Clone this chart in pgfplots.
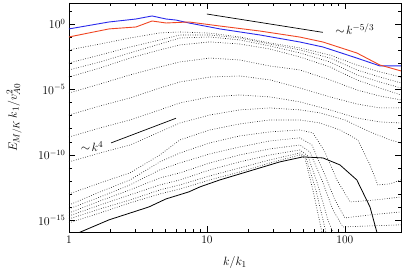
\documentclass[border=0pt]{standalone}
\usepackage{pgfplots}
\pgfplotsset{compat=1.18}
\definecolor{myblue}{RGB}{40,40,235}
\definecolor{myred}{RGB}{240,70,35}
\begin{document}
\begin{tikzpicture}
\begin{axis}[
  scale only axis, width=332pt, height=229pt,
  xmode=log, ymode=log,
  xmin=1, xmax=255, ymin=1.3e-16, ymax=40,
  xtick={1,10,100}, xticklabels={1,10,100},
  ytick={1e-15,1e-10,1e-5,1},
  yticklabels={$10^{-15}$,$10^{-10}$,$10^{-5}$,$10^{0}$},
  minor ytick={1e-16,1e-14,1e-13,1e-12,1e-11,1e-9,1e-8,1e-7,1e-6,1e-4,1e-3,1e-2,1e-1,10},
  tick align=inside,
  major tick length=6pt, minor tick length=3.5pt,
  every tick/.style={black, line width=0.5pt},
  tick label style={font=\fontsize{11.5}{13}\selectfont},
  xlabel={$k/k_1$}, ylabel={$E_{M/K}\,k_1/v_{A0}^2$},
  label style={font=\fontsize{12.5}{14}\selectfont},
  xlabel style={at={(axis description cs:0.5,-0.135)}, anchor=center},
  ylabel style={at={(axis description cs:-0.165,0.5)}, anchor=center},
  axis line style={line width=0.6pt},
  dotst/.style={black!90, line width=0.6pt, dash pattern=on 0.7pt off 1.7pt},
]
% dotted spectra
\addplot[dotst] coordinates {(1,6.46e-16)(1.68,3.72e-15)(2.77,2.19e-14)(4.56,1.05e-13)(6.37,2.51e-13)(10.5,1.23e-12)(17.3,5.01e-12)(28.6,2.45e-11)(47.2,1e-10)(51.3,5.89e-11)(58.6,2.14e-13)(68.1,1.32e-16)(70.4,3.24e-17)};
\addplot[dotst] coordinates {(1,1.29e-15)(1.68,7.59e-15)(2.77,3.63e-14)(4.56,2.14e-13)(6.37,5.13e-13)(10.5,2.51e-12)(17.3,1.02e-11)(28.6,4.17e-11)(47.2,1.41e-10)(52.1,7.08e-11)(61.6,2.14e-13)(72.8,1.32e-16)(76.6,3.24e-17)};
\addplot[dotst] coordinates {(1,2.19e-15)(1.68,1.51e-14)(2.77,8.91e-14)(4.56,5.13e-13)(6.37,1.23e-12)(10.5,7.24e-12)(17.3,2.95e-11)(28.6,1.0e-10)(47.2,2.40e-10)(53.9,8.32e-11)(63.7,5.13e-13)(75.3,1.10e-15)(86.1,3.24e-17)};
\addplot[dotst] coordinates {(1,3.72e-15)(1.68,3.09e-14)(2.77,2.14e-13)(4.56,1.74e-12)(6.37,4.27e-12)(10.5,2.45e-11)(17.3,1.0e-10)(28.6,2.88e-10)(47.2,5.75e-10)(55.7,1.70e-10)(68.1,1.23e-12)(81.9,6.31e-15)(96.8,3.16e-16)(152,3.80e-16)(255,4.57e-16)};
\addplot[dotst] coordinates {(1,7.59e-15)(1.68,6.17e-14)(2.77,5.13e-13)(4.56,7.24e-12)(6.37,2.45e-11)(10.5,1.20e-10)(17.3,4.07e-10)(28.6,1.17e-9)(47.2,2.0e-9)(57.7,5.75e-10)(71.6,2.95e-12)(84.7,3.63e-14)(100,1.55e-15)(152,2.63e-15)(255,4.47e-15)};
\addplot[dotst] coordinates {(1,1.51e-14)(1.68,1.51e-13)(2.77,1.23e-12)(4.56,2.95e-11)(6.37,1.41e-10)(10.5,8.32e-10)(17.3,2.82e-9)(28.6,5.75e-9)(47.2,8.13e-9)(58.6,4.79e-9)(71.6,1.70e-10)(87.5,1.23e-12)(109,2.57e-14)(165,3.63e-14)(255,6.17e-14)};
\addplot[dotst] coordinates {(1,1.05e-13)(1.68,7.24e-13)(2.77,4.27e-12)(4.56,1.0e-10)(6.37,1.41e-9)(10.5,8.13e-9)(17.3,2.34e-8)(28.6,4.68e-8)(47.2,4.68e-8)(65.9,2.75e-8)(92,8.13e-9)(124,1.41e-9)(152,1.74e-11)(173,5.13e-13)(212,6.17e-13)(255,1.23e-12)};
\addplot[dotst] coordinates {(1,2.95e-11)(1.68,1.41e-10)(2.77,5.75e-10)(4.56,5.75e-9)(6.37,2.75e-8)(10.5,1.12e-7)(17.3,2.75e-7)(28.6,3.89e-7)(47.2,2.75e-7)(65.9,1.62e-7)(100,4.68e-8)(152,5.75e-9)(212,1.41e-9)(255,8.32e-10)};
\addplot[dotst] coordinates {(1,2.34e-9)(1.68,1.15e-8)(2.77,4.68e-8)(4.56,2.75e-7)(6.37,9.33e-7)(10.5,2.69e-6)(17.3,3.80e-6)(28.6,2.69e-6)(47.2,1.12e-6)(77.9,2.75e-7)(122,6.61e-8)(179,3.31e-8)(255,2.75e-8)};
\addplot[dotst] coordinates {(1,1.12e-7)(1.68,5.50e-7)(2.77,2.24e-6)(4.56,1.29e-5)(6.37,3.72e-5)(10.5,8.91e-5)(17.3,1.07e-4)(28.6,5.37e-5)(47.2,1.29e-5)(77.9,2.69e-6)(122,7.76e-7)(179,3.89e-7)(255,3.89e-7)};
\addplot[dotst] coordinates {(1,5.37e-6)(1.68,2.63e-5)(2.77,1.29e-4)(4.56,5.25e-4)(6.37,1.26e-3)(10.5,2.51e-3)(17.3,1.78e-3)(28.6,6.17e-4)(47.2,3.09e-4)(77.9,5.37e-5)(122,9.12e-6)(179,3.16e-6)(255,1.58e-6)};
\addplot[dotst] coordinates {(1,8.91e-5)(1.68,4.37e-4)(2.77,2.51e-3)(4.56,1.05e-2)(6.37,2.51e-2)(10.5,4.27e-2)(17.3,2.95e-2)(28.6,1.23e-2)(47.2,3.02e-3)(77.9,5.25e-4)(122,5.37e-5)(179,1.29e-5)(255,3.80e-6)};
\addplot[dotst] coordinates {(1,3.09e-4)(1.68,1.26e-3)(2.77,6.17e-3)(4.56,2.95e-2)(6.37,8.51e-2)(10.5,1.02e-1)(17.3,6.03e-2)(28.6,2.09e-2)(47.2,6.17e-3)(77.9,1.26e-3)(122,1.29e-4)(179,3.72e-5)(255,1.29e-5)};
\addplot[dotst] coordinates {(1,1.05e-3)(1.68,4.27e-3)(2.77,1.74e-2)(4.56,6.03e-2)(6.37,1.45e-1)(10.5,1.45e-1)(17.3,8.51e-2)(28.6,2.95e-2)(47.2,1.05e-2)(77.9,2.51e-3)(122,3.09e-4)(179,8.91e-5)(255,3.16e-5)};
\addplot[dotst] coordinates {(1,1.05e-2)(1.68,2.95e-2)(2.77,8.51e-2)(4.56,2.09e-1)(6.37,2.45e-1)(10.5,2.0e-1)(17.3,1.02e-1)(28.6,3.55e-2)(47.2,1.48e-2)(77.9,4.27e-3)(122,7.41e-4)(179,2.19e-4)(255,8.91e-5)};
% initial spectrum
\addplot[black, line width=0.8pt] coordinates {(1,5.50e-17)(1.95,1.10e-15)(3.8,1.07e-14)(5.05,4.37e-14)(7.4,1.51e-13)(8.9,3.63e-13)(12.4,1.23e-12)(24.2,1.02e-11)(33.8,2.95e-11)(49.6,7.08e-11)(69.3,5.89e-11)(92,1.74e-11)(122,1.23e-12)(152,1.07e-14)(171,1.12e-16)(179,1.3e-17)};
% final spectra
\addplot[myblue, line width=0.9pt] coordinates {(1,0.42)(1.95,1.42)(3.06,2.4)(4.0,4.1)(5.05,2.4)(5.96,2.0)(7.4,1.19)(12.4,0.42)(24.2,0.145)(47.2,0.042)(69.3,0.0175)(122,2.5e-3)(179,6.3e-4)(255,6.3e-4)};
\addplot[myred, line width=0.9pt] coordinates {(1,0.102)(1.95,0.42)(3.06,0.59)(4.0,1.69)(5.05,1.19)(7.4,1.42)(12.4,0.7)(24.2,0.29)(47.2,0.10)(69.3,0.042)(122,6.1e-3)(179,7.4e-4)(255,2.6e-4)};
% reference slopes
\addplot[black, line width=0.7pt] coordinates {(10,5.75)(69.3,0.229)};
\addplot[black, line width=0.7pt] coordinates {(2.02,8.32e-10)(5.96,6.31e-8)};
\node[font=\fontsize{12.5}{14}\selectfont] at (axis cs:118,0.4) {$\sim\!k^{-5/3}$};
\node[font=\fontsize{12.5}{14}\selectfont] at (axis cs:1.47,4.5e-10) {$\sim\!k^{4}$};
\coordinate (bl) at (rel axis cs:-0.2078,-0.1703);
\coordinate (tr) at (rel axis cs:1.0181,1.0131);
\end{axis}
\pgfresetboundingbox
\path[use as bounding box] (bl) rectangle (tr);
\end{tikzpicture}
\end{document}
